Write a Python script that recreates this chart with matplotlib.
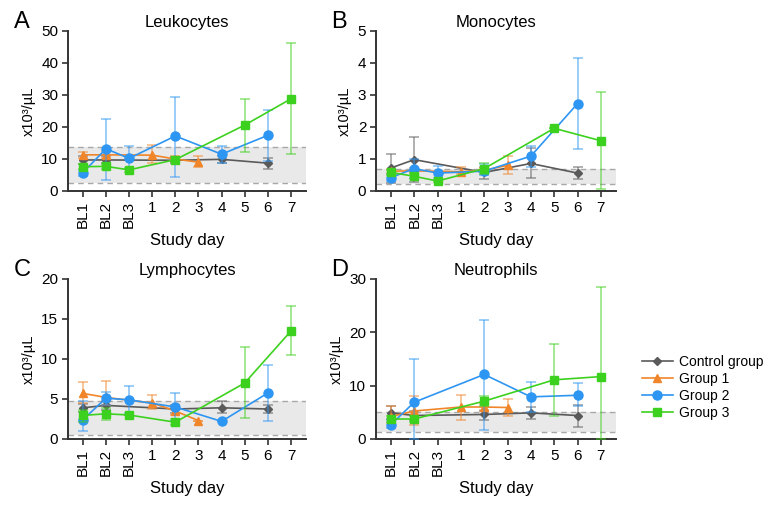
import numpy as np
import matplotlib
matplotlib.use("Agg")
import matplotlib.pyplot as plt

plt.rcParams["font.family"] = ["Liberation Sans", "DejaVu Sans"]

nan = np.nan
days = ["BL1", "BL2", "BL3", "1", "2", "3", "4", "5", "6", "7"]
groups = ["Control group", "Group 1", "Group 2", "Group 3"]
colors = ["#5a5a5a", "#F0852A", "#2D95F2", "#3DD11F"]
markers = ["D", "^", "o", "s"]
msizes = [4, 6, 6.5, 6]

# Leukocytes
leuko_ctrl = [9.7, 9.7, nan, nan, 9.6, nan, 9.9, nan, 8.7, nan]
leuko_ctrl_lo = [8.3, 8.7, nan, nan, 8.6, nan, 8.8, nan, 7.0, nan]
leuko_ctrl_hi = [11.0, 10.8, nan, nan, 10.6, nan, 11.0, nan, 10.4, nan]
leuko_g1 = [11.3, 11.3, nan, 11.2, 10.0, 9.0, nan, nan, nan, nan]
leuko_g1_lo = [10.2, 10.2, nan, 8.8, 9.0, 7.6, nan, nan, nan, nan]
leuko_g1_hi = [12.3, 12.4, nan, 14.4, 11.0, 10.8, nan, nan, nan, nan]
leuko_g2 = [5.7, 13.2, 10.2, nan, 17.2, nan, 11.5, nan, 17.4, nan]
leuko_g2_lo = [4.8, 3.3, 7.0, nan, 4.5, nan, 8.8, nan, 9.5, nan]
leuko_g2_hi = [6.5, 22.6, 14.1, nan, 29.4, nan, 14.1, nan, 25.3, nan]
leuko_g3 = [7.6, 7.7, 6.6, nan, 9.8, nan, nan, 20.6, nan, 28.8]
leuko_g3_lo = [6.8, 7.0, 6.0, nan, 9.0, nan, nan, 12.3, nan, 11.5]
leuko_g3_hi = [8.4, 8.5, 7.2, nan, 10.6, nan, nan, 28.8, nan, 46.3]

# Monocytes
mono_ctrl = [0.72, 0.98, nan, nan, 0.58, nan, 0.86, nan, 0.56, nan]
mono_ctrl_lo = [0.25, 0.28, nan, nan, 0.39, nan, 0.41, nan, 0.37, nan]
mono_ctrl_hi = [1.17, 1.69, nan, nan, 0.75, nan, 1.33, nan, 0.75, nan]
mono_g1 = [0.62, 0.63, nan, 0.60, 0.65, 0.80, nan, nan, nan, nan]
mono_g1_lo = [0.55, 0.55, nan, 0.52, 0.58, 0.52, nan, nan, nan, nan]
mono_g1_hi = [0.70, 0.72, nan, 0.74, 0.72, 1.10, nan, nan, nan, nan]
mono_g2 = [0.42, 0.70, 0.56, nan, 0.62, nan, 1.09, nan, 2.73, nan]
mono_g2_lo = [0.32, 0.40, 0.42, nan, 0.50, nan, 0.75, nan, 1.32, nan]
mono_g2_hi = [0.52, 1.00, 0.78, nan, 0.85, nan, 1.42, nan, 4.15, nan]
mono_g3 = [0.58, 0.46, 0.31, nan, 0.70, nan, nan, 1.96, nan, 1.57]
mono_g3_lo = [0.50, 0.36, 0.27, nan, 0.52, nan, nan, 1.96, nan, 0.05]
mono_g3_hi = [0.66, 0.56, 0.35, nan, 0.88, nan, nan, 1.96, nan, 3.10]

# Lymphocytes
lymph_ctrl = [3.9, 4.2, nan, nan, 3.75, nan, 3.9, nan, 3.75, nan]
lymph_ctrl_lo = [3.4, 3.6, nan, nan, 3.3, nan, 3.2, nan, 3.25, nan]
lymph_ctrl_hi = [4.4, 4.8, nan, nan, 4.2, nan, 4.7, nan, 4.3, nan]
lymph_g1 = [5.7, 5.2, nan, 4.5, 3.5, 2.3, nan, nan, nan, nan]
lymph_g1_lo = [4.5, 4.2, nan, 3.8, 3.0, 2.3, nan, nan, nan, nan]
lymph_g1_hi = [7.1, 7.3, nan, 5.5, 4.0, 2.3, nan, nan, nan, nan]
lymph_g2 = [2.4, 5.1, 4.9, nan, 4.0, nan, 2.2, nan, 5.75, nan]
lymph_g2_lo = [0.95, 4.3, 3.3, nan, 2.3, nan, 2.2, nan, 2.2, nan]
lymph_g2_hi = [4.7, 5.9, 6.6, nan, 5.8, nan, 2.2, nan, 9.3, nan]
lymph_g3 = [2.95, 3.15, 3.0, nan, 2.1, nan, nan, 7.0, nan, 13.5]
lymph_g3_lo = [2.1, 2.4, 3.0, nan, 1.7, nan, nan, 2.6, nan, 10.5]
lymph_g3_hi = [3.6, 3.9, 3.0, nan, 2.5, nan, nan, 11.5, nan, 16.6]

# Neutrophils
neut_ctrl = [4.9, 4.4, nan, nan, 4.6, nan, 4.9, nan, 4.4, nan]
neut_ctrl_lo = [3.8, 3.5, nan, nan, 3.5, nan, 3.8, nan, 2.25, nan]
neut_ctrl_hi = [6.1, 5.2, nan, nan, 5.3, nan, 6.0, nan, 6.4, nan]
neut_g1 = [4.2, 5.25, nan, 6.0, 6.0, 5.9, nan, nan, nan, nan]
neut_g1_lo = [3.0, 2.6, nan, 3.6, 5.5, 4.25, nan, nan, nan, nan]
neut_g1_hi = [6.2, 8.1, nan, 8.3, 6.5, 7.5, nan, nan, nan, nan]
neut_g2 = [2.7, 6.9, nan, nan, 12.1, nan, 7.9, nan, 8.2, nan]
neut_g2_lo = [2.0, 0.0, nan, nan, 1.75, nan, 5.0, nan, 6.1, nan]
neut_g2_hi = [3.5, 15.0, nan, nan, 22.4, nan, 10.7, nan, 10.5, nan]
neut_g3 = [3.75, 3.75, nan, nan, 7.1, nan, nan, 11.1, nan, 11.7]
neut_g3_lo = [3.2, 3.2, nan, nan, 6.2, nan, nan, 4.4, nan, 0.0]
neut_g3_hi = [4.3, 4.3, nan, nan, 8.0, nan, nan, 17.8, nan, 28.5]

# reference ranges (shaded band)
leuko_ref = (2.5, 13.8)
mono_ref = (0.22, 0.70)
lymph_ref = (0.5, 4.7)
neut_ref = (1.4, 5.1)

panels = [
    ("A", "Leukocytes", [leuko_ctrl, leuko_g1, leuko_g2, leuko_g3],
     [leuko_ctrl_lo, leuko_g1_lo, leuko_g2_lo, leuko_g3_lo],
     [leuko_ctrl_hi, leuko_g1_hi, leuko_g2_hi, leuko_g3_hi], leuko_ref, 50, 10),
    ("B", "Monocytes", [mono_ctrl, mono_g1, mono_g2, mono_g3],
     [mono_ctrl_lo, mono_g1_lo, mono_g2_lo, mono_g3_lo],
     [mono_ctrl_hi, mono_g1_hi, mono_g2_hi, mono_g3_hi], mono_ref, 5, 1),
    ("C", "Lymphocytes", [lymph_ctrl, lymph_g1, lymph_g2, lymph_g3],
     [lymph_ctrl_lo, lymph_g1_lo, lymph_g2_lo, lymph_g3_lo],
     [lymph_ctrl_hi, lymph_g1_hi, lymph_g2_hi, lymph_g3_hi], lymph_ref, 20, 5),
    ("D", "Neutrophils", [neut_ctrl, neut_g1, neut_g2, neut_g3],
     [neut_ctrl_lo, neut_g1_lo, neut_g2_lo, neut_g3_lo],
     [neut_ctrl_hi, neut_g1_hi, neut_g2_hi, neut_g3_hi], neut_ref, 30, 10),
]

fig = plt.figure(figsize=(7.68, 5.08), dpi=100)
W, H = 768, 508
# axes boxes in pixels: left, top, right, bottom
boxes = [(68, 31, 306, 191), (376, 31, 616, 191),
         (68, 279, 306, 439), (376, 279, 616, 439)]
letter_xy = [(14, 28), (331, 28), (14, 276), (331, 276)]

x = np.arange(len(days))
handles = []
for (letter, title, means, los, his, ref, ymax, ystep), box, lxy in zip(panels, boxes, letter_xy):
    l, t, r, b = box
    ax = fig.add_axes([l / W, 1 - b / H, (r - l) / W, (b - t) / H])
    ax.axhspan(ref[0], ref[1], color="#e9e9e9", lw=0, zorder=0)
    for yv in ref:
        ax.axhline(yv, color="#a8a8a8", lw=1, ls=(0, (4, 3)), zorder=0.5)
    for k in range(4):
        m = np.array(means[k], float)
        lo = np.array(los[k], float)
        hi = np.array(his[k], float)
        ok = ~np.isnan(m)
        ax.errorbar(x[ok], m[ok], yerr=[m[ok] - lo[ok], hi[ok] - m[ok]], fmt="none",
                    ecolor=colors[k], alpha=0.6, elinewidth=1.1, capsize=3.5,
                    capthick=1.1, zorder=2 + k)
        h, = ax.plot(x[ok], m[ok], color=colors[k], marker=markers[k], ms=msizes[k],
                     lw=1.2, zorder=3 + k, label=groups[k])
        if letter == "A":
            handles.append(h)
    ax.set_xlim(-0.64, 9.65)
    ax.set_ylim(0, ymax)
    ax.set_yticks(np.arange(0, ymax + ystep / 2, ystep))
    ax.set_xticks(x)
    ax.set_xticklabels(days)
    for i, lab in enumerate(ax.get_xticklabels()):
        if i < 3:
            lab.set_rotation(90)
            lab.set_va("top")
    ax.tick_params(labelsize=11, length=4, width=1.2, color="#333333", pad=3)
    for s in ("top", "right"):
        ax.spines[s].set_visible(False)
    for s in ("left", "bottom"):
        ax.spines[s].set_linewidth(1.4)
        ax.spines[s].set_color("#333333")
    ax.set_title(title, fontsize=12, pad=3)
    ax.set_xlabel("Study day", fontsize=12, labelpad=4)
    ax.set_ylabel("x10³/µL", fontsize=10.5, labelpad=4)
    fig.text(lxy[0] / W, 1 - lxy[1] / H, letter, fontsize=17, ha="left", va="baseline")

fig.legend(handles=handles, loc="upper left", bbox_to_anchor=(635 / W, 1 - 348 / H),
           frameon=False, fontsize=10, handlelength=2.2, labelspacing=0.22,
           handletextpad=0.5, borderpad=0)

fig.savefig("out.png", dpi=100)
